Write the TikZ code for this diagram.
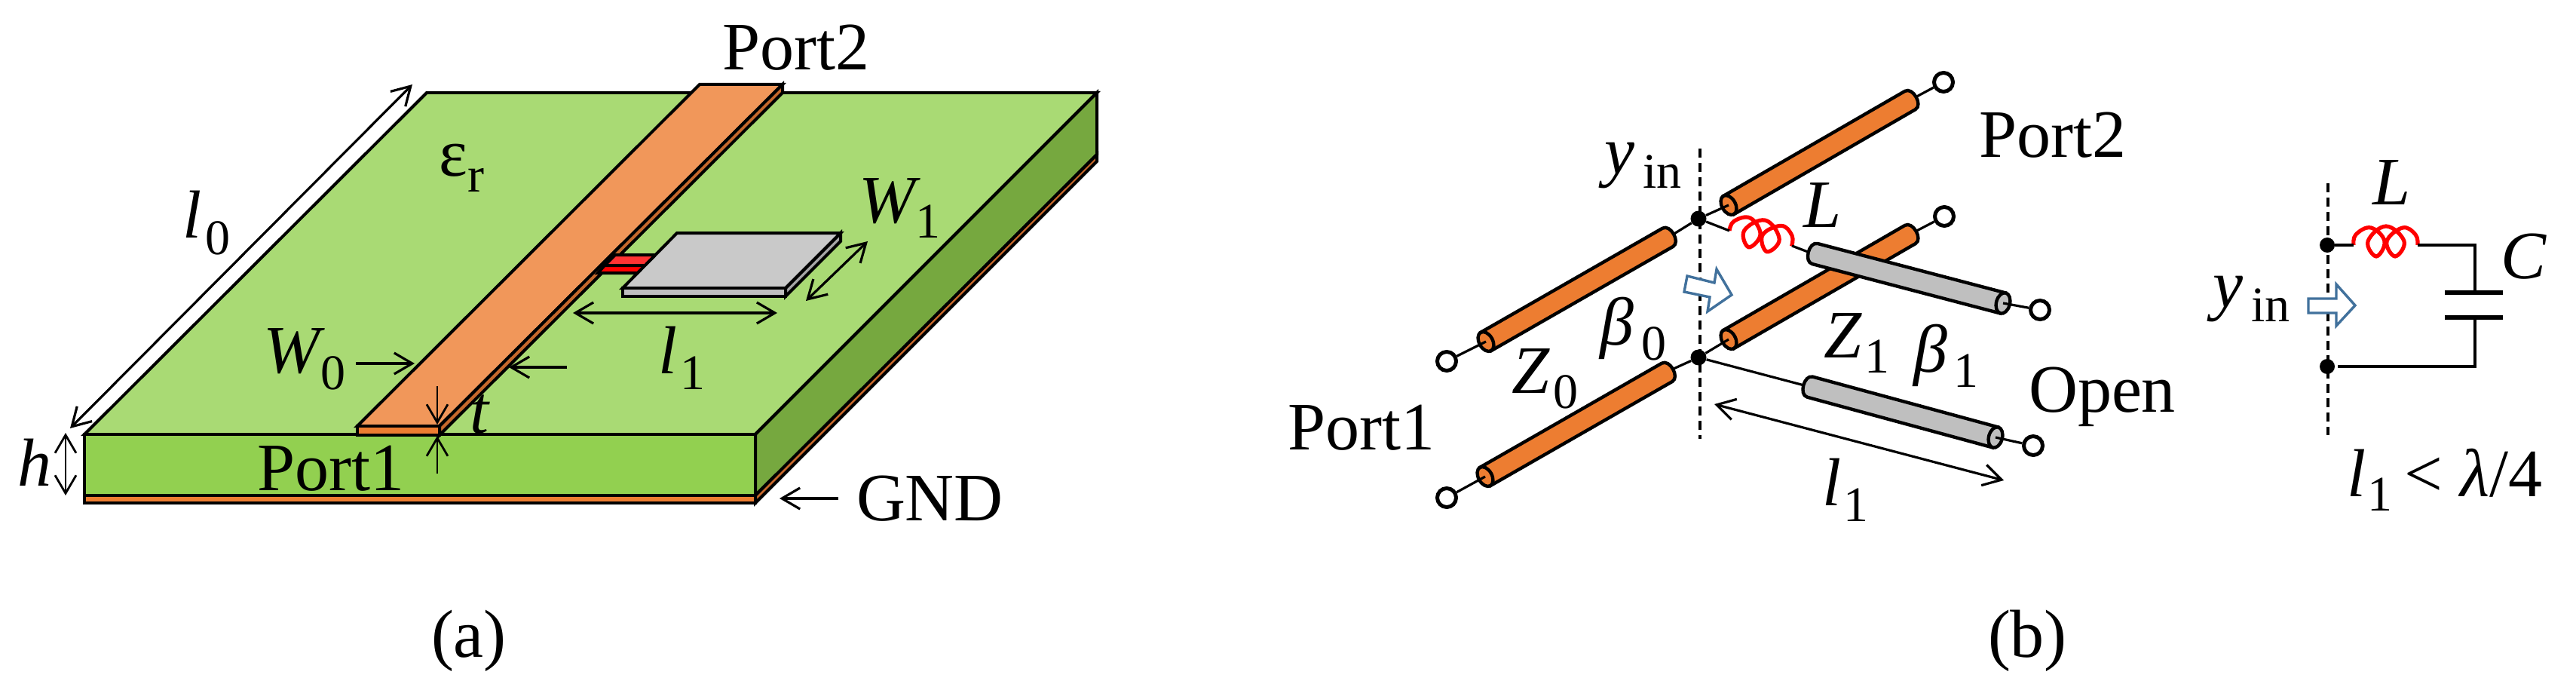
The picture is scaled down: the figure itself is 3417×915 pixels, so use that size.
\documentclass[tikz,border=0pt]{standalone}
\usepackage{fontspec}
\setmainfont{Liberation Serif}
\usetikzlibrary{arrows.meta}
\definecolor{gtop}{HTML}{A9DA74}
\definecolor{gfront}{HTML}{92D050}
\definecolor{gside}{HTML}{76A83F}
\definecolor{ctop}{HTML}{F1975A}
\definecolor{cfront}{HTML}{ED7D31}
\definecolor{cside}{HTML}{C5682C}
\definecolor{rtop}{HTML}{FF3333}
\definecolor{gytop}{HTML}{C9C9C9}
\definecolor{gyfront}{HTML}{BFBFBF}
\definecolor{gyside}{HTML}{A5A5A5}
\definecolor{bluearrow}{HTML}{41719C}
\newcommand\mksub[4]{\rlap{#1}\kern#2pt\raisebox{-#3pt}{\fontsize{33}{40}\selectfont #4}}
\tikzset{
  >={Straight Barb[length=12pt,width=14pt]},
  solidface/.style={draw=black,line width=2pt,line join=miter},
  dim/.style={draw=black,line width=1.6pt},
  thindim/.style={draw=black,line width=1.4pt},
  wire/.style={draw=black,line width=1.6pt},
  cabline/.style={draw=black,line width=2.2pt},
  dashline/.style={draw=black,line width=1.6pt,dash pattern=on 6pt off 3.5pt},
  coilline/.style={draw=red,line width=2.6pt},
  hollow/.style={draw=bluearrow,line width=1.7pt,fill=white,line join=miter},
  lab/.style={anchor=base west,inner sep=0pt,outer sep=0pt,font=\fontsize{45}{54}\selectfont},
  term/.style={circle,draw=black,fill=white,line width=2.5pt,minimum size=12.5pt,inner sep=0pt},
  dotnode/.style={circle,fill=black,minimum size=10.5pt,inner sep=0pt}
}
% name, origin x, y, angle, length, colour
\newcommand\cablepart[6]{%
  \begin{scope}[shift={(#2,#3)},rotate=#4]
    \draw[cabline,fill=#6] (0,-14) -- (#5,-14) .. controls ({#5+12},-14) and ({#5+12},14) .. (#5,14) -- (0,14) -- cycle;
    \draw[cabline,fill=#6] (0,0) ellipse [x radius=9,y radius=14];
    \coordinate (#1-o) at (0,0);
    \coordinate (#1-t) at ({#5+9},0);
  \end{scope}}
\newcommand\coilpart[4]{%
  \draw[coilline,shift={(#1,#2)},rotate=#3] plot[smooth,tension=.7] coordinates {(0,0) (3,-14) (23,-23) (41,-5) (30,15) (19,-5) (43,-25) (67,-5) (55,15) (44,-5) (65,-23) (82,-14) (85,0)};
  \coordinate (#4) at (#1,#2);}
\begin{document}
\begin{tikzpicture}[x=0.5pt,y=-0.5pt]
\useasboundingbox (0,0) rectangle (3417,915);
% ---------- (a) board
\draw[solidface,fill=gtop] (112,576) -- (566,123) -- (1455,123) -- (1002,576) -- cycle;
\draw[solidface,fill=gside] (1002,576) -- (1455,123) -- (1455,205) -- (1002,657) -- cycle;
\draw[solidface,fill=cside] (1002,657) -- (1455,205) -- (1455,214) -- (1002,667) -- cycle;
\draw[solidface,fill=gfront] (112,576) rectangle (1002,657);
\draw[solidface,fill=cfront] (112,657) rectangle (1002,667);
% strip
\draw[solidface,fill=ctop] (474,565) -- (928,112) -- (1038,112) -- (583,565) -- cycle;
\draw[solidface,fill=cside] (583,565) -- (1038,112) -- (1038,123) -- (583,577) -- cycle;
\draw[solidface,fill=cfront] (474,565) rectangle (583,577);
% stub
\draw[solidface,fill=rtop] (802,352) -- (816,338) -- (872,338) -- (858,352) -- cycle;
\draw[solidface,fill=red] (793,362) -- (802,352) -- (858,352) -- (848,362) -- cycle;
% patch
\draw[solidface,fill=gyside] (1042,382) -- (1115,309) -- (1115,320) -- (1042,393) -- cycle;
\draw[solidface,fill=gytop] (826,382) -- (898,309) -- (1115,309) -- (1042,382) -- cycle;
\draw[solidface,fill=gyfront] (826,382) rectangle (1042,393);
% dimension arrows (a)
\coordinate (l0a) at (547,112); \coordinate (l0b) at (93,568);
\draw[dim,<->] (l0a) -- (l0b);
\coordinate (h0a) at (87,574); \coordinate (h0b) at (87,657);
\draw[thindim,<->] (h0a) -- (h0b);
\coordinate (w0a) at (472,482); \coordinate (w0b) at (550,482);
\draw[dim,->] (w0a) -- (w0b);
\coordinate (w0c) at (752,487); \coordinate (w0d) at (675,487);
\draw[dim,->] (w0c) -- (w0d);
\coordinate (ta) at (580,512); \coordinate (tb) at (580,563);
\draw[thindim,->] (ta) -- (tb);
\coordinate (tc) at (580,628); \coordinate (td) at (580,578);
\draw[thindim,->] (tc) -- (td);
\coordinate (l1a) at (760,415); \coordinate (l1b) at (1031,415);
\draw[dim,<->] (l1a) -- (l1b);
\coordinate (w1a) at (1151,320); \coordinate (w1b) at (1069,399);
\draw[dim,<->] (w1a) -- (w1b);
\coordinate (gnda) at (1112,661); \coordinate (gndb) at (1034,661);
\draw[dim,->] (gnda) -- (gndb);
% labels (a)
\node[lab] (txtport2a) at (958,93) {Port2};
\node[lab] (txtport1a) at (341,650) {Port1};
\node[lab] (txtl0) at (242,315) {\mksub{\textit{l}}{15}{11}{0}};
\node[lab] (txteps) at (582,233) {\mksub{ε}{19}{10.5}{r}};
\node[lab] (txtw0) at (349,494) {\mksub{\textit{W}}{38}{11}{0}};
\node[lab] (txtt) at (623,574) {\textit{t}};
\node[lab] (txth) at (24,644) {\textit{h}};
\node[lab] (txtl1a) at (873,495) {\mksub{\textit{l}}{14.5}{10.5}{1}};
\node[lab] (txtw1) at (1139,295) {\mksub{\textit{W}}{37.5}{10}{1}};
\node[lab] (txtgnd) at (1136,690) {GND};
\node[lab] (txta) at (572,871) {(a)};
% ---------- (b) line model
\coordinate (dashtop) at (2255,197); \coordinate (dashbot) at (2255,582);
\draw[dashline] (dashtop) -- (dashbot);
\cablepart{A}{1971}{453}{29.8}{278}{cfront}
\cablepart{B}{1970}{632}{29.8}{278}{cfront}
\cablepart{C}{2293}{272}{30}{278}{cfront}
\cablepart{D}{2293}{450}{30}{278}{cfront}
\cablepart{F}{2647}{580}{164.8}{255}{gyfront}
\cablepart{E}{2657}{402}{165.3}{258}{gyfront}
\node[dotnode] (n1) at (2253,290) {};
\node[dotnode] (n2) at (2253,474) {};
\node[term] (p1) at (1919,479) {};
\node[term] (p2) at (1919,660) {};
\node[term] (p3) at (2578,109) {};
\node[term] (p4) at (2579,287) {};
\node[term] (p5) at (2706,411) {};
\node[term] (p6) at (2697,591) {};
\draw[wire] (p1) -- (A-o);
\draw[wire] (p2) -- (B-o);
\draw[wire] (p3) -- (C-t);
\draw[wire] (p4) -- (D-t);
\draw[wire] (p5) -- (E-o);
\draw[wire] (p6) -- (F-o);
\draw[wire] (A-t) -- (n1);
\draw[wire] (B-t) -- (n2);
\draw[wire] (n1) -- (C-o);
\draw[wire] (n2) -- (D-o);
\draw[wire] (n2) -- (F-t);
\coilpart{2294}{306}{-14}{coilb}
\coordinate (coilbend) at (2377,326);
\draw[wire] (n1) -- (coilb);
\draw[wire] (coilbend) -- (E-t);
\coordinate (l1ba) at (2274,536); \coordinate (l1bb) at (2658,637);
\draw[dim,<->] (l1ba) -- (l1bb);
\draw[hollow] (2238,366) -- (2274,375) -- (2277,357) -- (2297,391) -- (2265,413) -- (2268,394) -- (2234,387) -- cycle;
\node[lab] (txtyinb) at (2128,230) {\mksub{\textit{y}}{25.5}{9.5}{in}};
\node[lab] (txtbeta0) at (2122,457) {\mksub{\textit{β}}{27.5}{10}{0}};
\node[lab] (txtz0) at (2005,521) {\mksub{\textit{Z}}{27.5}{10}{0}};
\node[lab] (txtz1) at (2419,474) {\mksub{\textit{Z}}{27}{10}{1}};
\node[lab] (txtbeta1) at (2538,493) {\mksub{\textit{β}}{26.5}{10}{1}};
\node[lab] (txtopen) at (2691,546) {Open};
\node[lab] (txtport2b) at (2625,208) {Port2};
\node[lab] (txtport1b) at (1708,596) {Port1};
\node[lab] (txtlb) at (2392,301) {\textit{L}};
\node[lab] (txtl1b) at (2417,670) {\mksub{\textit{l}}{14}{10.5}{1}};
\node[lab] (txtb) at (2637,871) {(b)};
% ---------- equivalent circuit
\coordinate (dash2top) at (3088,243); \coordinate (dash2bot) at (3088,577);
\draw[dashline] (dash2top) -- (dash2bot);
\node[dotnode,minimum size=10pt] (n3) at (3087,325) {};
\node[dotnode,minimum size=10pt] (n4) at (3087,486) {};
\coilpart{3122}{325}{0}{coilc}
\coordinate (coilcend) at (3207,325);
\coordinate (capwire1) at (3283,325);
\coordinate (captop) at (3283,388);
\coordinate (capbot) at (3283,421);
\coordinate (capwire2) at (3283,486);
\coordinate (gapend) at (3101,486);
\draw[wire] (n3) -- (coilc);
\draw[wire,line join=miter] (coilcend) -- (capwire1) -- (captop);
\draw[wire,line join=miter] (capbot) -- (capwire2) -- (gapend);
\coordinate (pt1a) at (3243,388); \coordinate (pt1b) at (3320,388);
\coordinate (pt2a) at (3243,421); \coordinate (pt2b) at (3320,421);
\draw[draw=black,line width=3.2pt] (pt1a) -- (pt1b);
\draw[draw=black,line width=3.2pt] (pt2a) -- (pt2b);
\draw[hollow] (3062,396) -- (3099,396) -- (3099,377) -- (3124,405) -- (3099,432) -- (3099,415) -- (3062,415) -- cycle;
\node[lab] (txtyinc) at (2935,407) {\mksub{\textit{y}}{25.5}{9.5}{in}};
\node[lab] (txtlc) at (3147,271) {\textit{L}};
\node[lab] (txtc) at (3317,369) {\textit{C}};
\node[lab] (txtcond) at (3113,658) {\mksub{\textit{l}}{13.5}{9.5}{1}\kern8pt <\kern12pt\textit{λ}/4};
\end{tikzpicture}
\end{document}
